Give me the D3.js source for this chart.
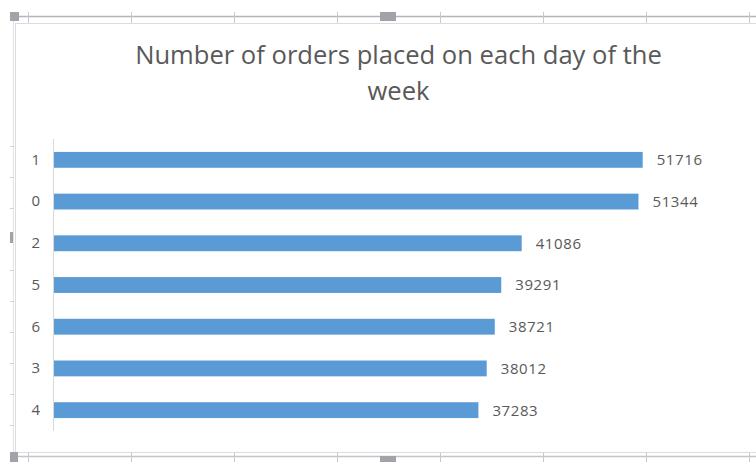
<!DOCTYPE html>
<html>
<head>
<meta charset="utf-8">
<script src="https://cdn.jsdelivr.net/npm/d3@7"></script>
<style>
  body { margin: 0; background: #fff; }
  svg text { font-family: "Open Sans", "Noto Sans", sans-serif; fill: #595959; }
</style>
</head>
<body>
<div id="chart"></div>
<script>
// data, in the order the bars appear (top to bottom)
var days = ["1", "0", "2", "5", "6", "3", "4"];
var orders = [51716, 51344, 41086, 39291, 38721, 38012, 37283];
var titleLines = ["Number of orders placed on each day of the", "week"];

var W = 756, H = 462;
var margin = {top: 139, right: 19, bottom: 31, left: 54},
    width = 737 - margin.left,
    height = 431 - margin.top;

var svg = d3.select("#chart")
  .append("svg")
  .attr("width", W)
  .attr("height", H);

// spreadsheet frame around the chart object
var frame = svg.append("g");
frame.append("line").attr("x1", 18).attr("x2", W).attr("y1", 16.5).attr("y2", 16.5)
  .attr("stroke", "#b4b4bc").attr("stroke-width", 1.5);
frame.append("line").attr("x1", 18).attr("x2", W).attr("y1", 456.5).attr("y2", 456.5)
  .attr("stroke", "#c4c4cc").attr("stroke-width", 1.5);
d3.range(28, W, 103).forEach(function(x) {
  frame.append("line").attr("x1", x + 0.5).attr("x2", x + 0.5).attr("y1", 12).attr("y2", 23)
    .attr("stroke", "#c8c8d0");
  frame.append("line").attr("x1", x + 0.5).attr("x2", x + 0.5).attr("y1", 452).attr("y2", 462)
    .attr("stroke", "#c8c8d0");
});
frame.append("line").attr("x1", 13.5).attr("x2", 13.5).attr("y1", 20).attr("y2", 456)
  .attr("stroke", "#e2e2e6");
d3.range(146, 452, 31).forEach(function(y) {
  frame.append("line").attr("x1", 10).attr("x2", 14).attr("y1", y + 0.5).attr("y2", y + 0.5)
    .attr("stroke", "#d0d0d6");
});
// chart border
frame.append("rect").attr("x", 15.5).attr("y", 23.5).attr("width", W).attr("height", 429)
  .attr("fill", "#fff").attr("stroke", "#dcdcdc");
// handles
var handle = "#a2a2aa";
frame.append("rect").attr("x", 10).attr("y", 12).attr("width", 9).attr("height", 9).attr("fill", handle);
frame.append("rect").attr("x", 380).attr("y", 12).attr("width", 16).attr("height", 9).attr("fill", handle);
frame.append("rect").attr("x", 10).attr("y", 232).attr("width", 3).attr("height", 11).attr("fill", handle);
frame.append("rect").attr("x", 10).attr("y", 452).attr("width", 8).attr("height", 10).attr("fill", handle);
frame.append("rect").attr("x", 380).attr("y", 456).attr("width", 16).attr("height", 6).attr("fill", handle);

// title
var title = svg.append("g").attr("transform", "translate(398.5,0)");
title.selectAll("text")
  .data(titleLines)
  .enter()
  .append("text")
  .attr("text-anchor", "middle")
  .attr("y", function(d, i) { return 64 + i * 36; })
  .style("font-size", "24px")
  .text(function(d) { return d; });
// fit the first line to the reference width
var t0 = title.select("text").node();
var fs = 24 * 527 / t0.getComputedTextLength();
title.selectAll("text").style("font-size", fs + "px").attr("fill", "#525252");

var g = svg.append("g")
  .attr("transform", "translate(" + margin.left + "," + margin.top + ")");

var x = d3.scaleLinear()
  .domain([0, 60000])
  .range([0, width]);

var y = d3.scaleBand()
  .domain(days)
  .range([0, height])
  .paddingInner(0.62)
  .paddingOuter(0.31);

// category axis
var yAxis = g.append("g")
  .call(d3.axisLeft(y).tickSize(0).tickPadding(14));
yAxis.select(".domain").attr("stroke", "#d9d9d9").attr("d", "M-0.5,0V" + height);
yAxis.selectAll("text")
  .style("font-size", "15px")
  .style("font-family", "'Open Sans', sans-serif")
  .attr("fill", "#595959");

var data = days.map(function(d, i) { return {day: d, value: orders[i]}; });

g.selectAll(".bar")
  .data(data)
  .enter()
  .append("rect")
  .attr("class", "bar")
  .attr("x", 0)
  .attr("y", function(d) { return y(d.day); })
  .attr("width", function(d) { return x(d.value); })
  .attr("height", y.bandwidth())
  .attr("fill", "#5b9bd5");

g.selectAll(".val")
  .data(data)
  .enter()
  .append("text")
  .attr("class", "val")
  .attr("x", function(d) { return x(d.value) + 14; })
  .attr("y", function(d) { return y(d.day) + y.bandwidth() / 2; })
  .attr("dy", "0.36em")
  .style("font-size", "15px")
  .style("letter-spacing", "0.6px")
  .text(function(d) { return d.value; });
</script>
</body>
</html>
